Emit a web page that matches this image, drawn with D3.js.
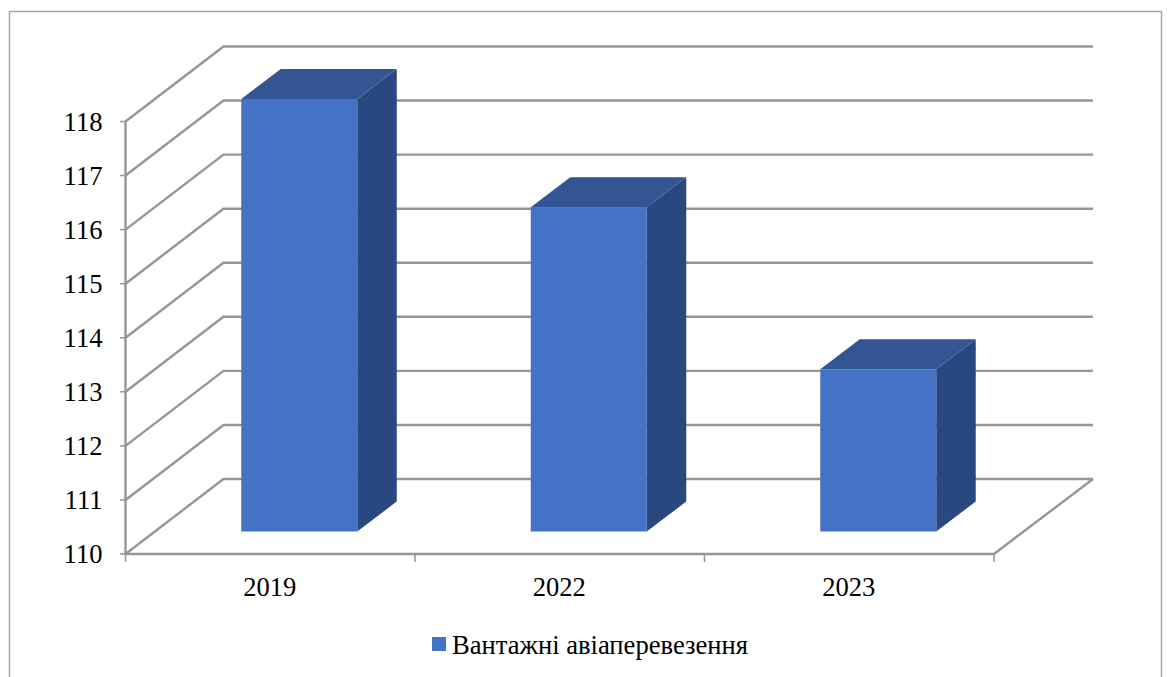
<!DOCTYPE html>
<html><head><meta charset="utf-8">
<script src="https://cdn.jsdelivr.net/npm/d3@7"></script>
<style>html,body{margin:0;padding:0;background:#fff;overflow:hidden}svg{display:block}text{font-family:"Liberation Serif","Times New Roman",serif;fill:#000}</style>
</head><body><svg id="c" width="1168" height="677"></svg>
<script>
const categories=["2019","2022","2023"];
const values=[118,116,113];
const seriesName="Вантажні авіаперевезення";
const yTicks=[110,111,112,113,114,115,116,117,118];

const svg=d3.select("#c");
const grid="#969696";
const x=d3.scaleBand().domain(categories).range([125.5,994]);
const y=d3.scaleLinear().domain([110,118]).range([554,121.5]);
const wallDx=98,wallDy=-75;      // floor depth
const barInDx=29,barInDy=-22.5;  // bar front plane
const barDx=39.5,barDy=-30;      // bar depth
const barW=116;
const fs=26.6;

// frame
svg.append("path").attr("d","M9.5,677V11.5H1161.5V677").attr("fill","none").attr("stroke","#a6a6a6").attr("stroke-width",1.5);

// walls
const line=d3.line();
yTicks.forEach(t=>{
  const y0=y(t);
  svg.append("path").attr("d",line([[125.5,y0],[125.5+wallDx,y0+wallDy],[1093,y0+wallDy]]))
    .attr("fill","none").attr("stroke",grid).attr("stroke-width",2.4);
});
// floor
svg.append("path").attr("d",line([[125.5,y(110)],[994,y(110)],[1093,y(110)+wallDy]]))
  .attr("fill","none").attr("stroke",grid).attr("stroke-width",2.4);
// axis line
svg.append("line").attr("x1",125.5).attr("x2",125.5).attr("y1",y(118)).attr("y2",y(110)).attr("stroke",grid).attr("stroke-width",2.4);
// y ticks + labels
yTicks.forEach(t=>{
  svg.append("line").attr("x1",120).attr("x2",125.5).attr("y1",y(t)).attr("y2",y(t)).attr("stroke",grid).attr("stroke-width",1.5);
  svg.append("text").attr("x",102.5).attr("y",y(t)+9).attr("text-anchor","end").attr("font-size",fs).text(t);
});
// x ticks
[...categories.map(c=>x(c)),994].forEach(px=>{
  svg.append("line").attr("x1",px).attr("x2",px).attr("y1",554).attr("y2",562).attr("stroke",grid).attr("stroke-width",1.5);
});
// bars
categories.forEach((c,i)=>{
  const xc=x(c)+x.bandwidth()/2+barInDx;
  const l=xc-barW/2,r=xc+barW/2;
  const b=y(110)+barInDy,t=y(values[i])+barInDy;
  const g=svg.append("g");
  g.append("path").attr("d",line([[r,t],[r+barDx,t+barDy],[r+barDx,b+barDy],[r,b]])+"Z").attr("fill","#2a4880");
  g.append("path").attr("d",line([[l,t],[l+barDx,t+barDy],[r+barDx,t+barDy],[r,t]])+"Z").attr("fill","#335594");
  g.append("rect").attr("x",l).attr("y",t).attr("width",barW).attr("height",b-t).attr("fill","#4472c4");
  svg.append("text").attr("x",x(c)+x.bandwidth()/2-0.5).attr("y",596).attr("text-anchor","middle").attr("font-size",fs).text(c);
});
// legend
svg.append("rect").attr("x",432).attr("y",637).attr("width",14).attr("height",14).attr("fill","#4472c4");
svg.append("text").attr("x",452).attr("y",654).attr("font-size",fs).text(seriesName);
</script></body></html>
